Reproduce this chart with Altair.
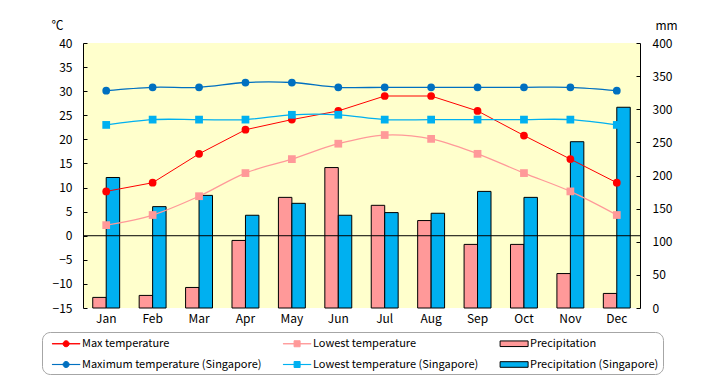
import altair as alt
import pandas as pd

months = ["Jan", "Feb", "Mar", "Apr", "May", "Jun", "Jul", "Aug", "Sep", "Oct", "Nov", "Dec"]

max_temp = [9.2, 11.0, 17.0, 22.0, 24.1, 25.9, 29.0, 29.0, 25.9, 20.8, 15.9, 11.0]
min_temp = [2.2, 4.3, 8.2, 13.0, 15.9, 19.1, 20.9, 20.1, 17.0, 13.0, 9.2, 4.3]
sg_max_temp = [30.1, 30.8, 30.8, 31.8, 31.8, 30.8, 30.8, 30.8, 30.8, 30.8, 30.8, 30.1]
sg_min_temp = [23.0, 24.1, 24.1, 24.1, 25.1, 25.1, 24.1, 24.1, 24.1, 24.1, 24.1, 23.0]

precip = [16, 19, 31, 102, 167, 212, 155, 132, 96, 96, 52, 22]
sg_precip = [197, 153, 170, 140, 158, 140, 144, 143, 176, 167, 251, 303]

series_names = [
    "Max temperature",
    "Lowest temperature",
    "Precipitation",
    "Maximum temperature (Singapore)",
    "Lowest temperature (Singapore)",
    "Precipitation (Singapore)",
]
series_colors = ["#FF0000", "#FF9999", "#FF9999", "#0070C0", "#00B0F0", "#00B0F0"]
legend_strokes = ["#FF0000", "#FF9999", "#000000", "#0070C0", "#00B0F0", "#000000"]

temp_left_ticks = list(range(-15, 41, 5))
precip_right_ticks = list(range(0, 401, 50))

# legend symbol glyphs (unit coordinates)
LINE = "M-0.2,-0.01H3.8V0.01H-0.2Z"
CIRC = " M1.8,-0.43A0.43,0.43 0 1 1 1.8,0.43A0.43,0.43 0 1 1 1.8,-0.43Z"
SQR = " M1.37,-0.43H2.23V0.43H1.37Z"
RECT = "M-0.2,-0.4H3.8V0.4H-0.2Z"
legend_shapes = [LINE + CIRC, LINE + SQR, RECT, LINE + CIRC, LINE + SQR, RECT]

# ---- tables ----
temp_rows = []
for name, vals, kind in [
    (series_names[0], max_temp, "circle"),
    (series_names[1], min_temp, "square"),
    (series_names[3], sg_max_temp, "circle"),
    (series_names[4], sg_min_temp, "square"),
]:
    for m, v in zip(months, vals):
        temp_rows.append({"month": m, "series": name, "value": v, "kind": kind})
temp_df = pd.DataFrame(temp_rows)

precip_rows = []
for name, vals in [(series_names[2], precip), (series_names[5], sg_precip)]:
    for m, v in zip(months, vals):
        precip_rows.append({"month": m, "series": name, "value": v})
precip_df = pd.DataFrame(precip_rows)

zero_df = pd.DataFrame({"v": [0]})

FONT = "Noto Sans CJK JP"

# colour scale for the drawn marks (different domain order than the legend scales
# so that its disabled legend is not merged with the legend below)
mark_order = [0, 1, 3, 4, 2, 5]
color_scale = alt.Scale(
    domain=[series_names[i] for i in mark_order],
    range=[series_colors[i] for i in mark_order],
)

x_enc = alt.X(
    "month:N",
    sort=months,
    scale=alt.Scale(paddingInner=0.42, paddingOuter=0.21),
    axis=alt.Axis(
        title=None, labelAngle=0, domain=False, ticks=False, tickSize=0,
        labelPadding=5, labelFontSize=12, labelColor="black", grid=False,
    ),
)

temp_scale = alt.Scale(domain=[-15, 40], nice=False, zero=False)
temp_axis = alt.Axis(
    orient="left", values=temp_left_ticks, title="℃", titleAngle=0,
    titleX=-26, titleY=-18, titleAlign="center", titleBaseline="middle",
    titleFontWeight="normal", titleFontSize=12, titleColor="black",
    ticks=False, tickSize=0, domain=True, domainColor="black", domainWidth=1,
    grid=True, gridColor="black", gridWidth=1, gridDash=[4, 1000], gridOpacity=1,
    labelPadding=11, labelFontSize=12, labelColor="black", labelFlush=False,
)

precip_axis = alt.Axis(
    orient="right", values=precip_right_ticks, title="mm", titleAngle=0,
    titleX=26, titleY=-18, titleAlign="center", titleBaseline="middle",
    titleFontWeight="normal", titleFontSize=12, titleColor="black",
    ticks=False, tickSize=0, domain=True, domainColor="black", domainWidth=1,
    grid=True, gridColor="black", gridWidth=1, gridDash=[4, 1000], gridOpacity=1,
    labelPadding=12, labelFontSize=12, labelColor="black", labelFlush=False,
)

bars = alt.Chart(precip_df).mark_bar(stroke="black", strokeWidth=1, opacity=1).encode(
    x=x_enc,
    xOffset=alt.XOffset(
        "series:N",
        sort=[series_names[2], series_names[5]],
        scale=alt.Scale(domain=[series_names[2], series_names[5]], paddingInner=0, paddingOuter=0),
    ),
    y=alt.Y("value:Q", scale=alt.Scale(domain=[0, 400], nice=False), axis=precip_axis),
    color=alt.Color("series:N", scale=color_scale, legend=None),
)

y_temp = alt.Y("value:Q", scale=temp_scale, axis=temp_axis)

zero_rule = alt.Chart(zero_df).mark_rule(color="black", strokeWidth=1).encode(
    y=alt.Y("v:Q", scale=temp_scale, axis=temp_axis)
)

line_straight = alt.Chart(temp_df).transform_filter(
    alt.datum.series == series_names[0]
).mark_line(strokeWidth=1).encode(
    x=x_enc, y=y_temp, color=alt.Color("series:N", scale=color_scale, legend=None)
)

line_smooth = alt.Chart(temp_df).transform_filter(
    alt.datum.series != series_names[0]
).mark_line(strokeWidth=1.3, interpolate="catmull-rom").encode(
    x=x_enc, y=y_temp, color=alt.Color("series:N", scale=color_scale, legend=None)
)

pts_circle = alt.Chart(temp_df).transform_filter(
    alt.datum.kind == "circle"
).mark_point(shape="circle", filled=True, size=60, opacity=1).encode(
    x=x_enc, y=y_temp, color=alt.Color("series:N", scale=color_scale, legend=None)
)

pts_square = alt.Chart(temp_df).transform_filter(
    alt.datum.kind == "square"
).mark_point(shape="square", filled=True, size=60, opacity=1).encode(
    x=x_enc, y=y_temp, color=alt.Color("series:N", scale=color_scale, legend=None)
)

# the last column gets some trailing room so the frame reaches the right like the reference
label_expr = "datum.label == '" + series_names[5] + "' ? datum.label + '\u2003\u2003' : datum.label"

the_legend = alt.Legend(
    title=None, orient="none", legendX=-41, legendY=289,
    direction="horizontal", columns=3, gridAlign="each",
    columnPadding=15, rowPadding=8, padding=4,
    symbolSize=196, symbolStrokeWidth=1, symbolOpacity=1, labelOffset=21,
    labelFontSize=11, labelFont=FONT, labelColor="black", labelLimit=0,
    labelExpr=label_expr,
    strokeColor="#A6A6A6", cornerRadius=8, fillColor="white",
)

legend_layer = alt.Chart(temp_df).transform_filter("false").mark_point(filled=True, opacity=1).encode(
    x=x_enc,
    y=y_temp,
    fill=alt.Fill("series:N", scale=alt.Scale(domain=series_names, range=series_colors), legend=the_legend),
    stroke=alt.Stroke("series:N", scale=alt.Scale(domain=series_names, range=legend_strokes), legend=the_legend),
    shape=alt.Shape("series:N", scale=alt.Scale(domain=series_names, range=legend_shapes), legend=the_legend),
)

temp_layer = alt.layer(zero_rule, line_straight, line_smooth, pts_circle, pts_square, legend_layer)

chart = (
    alt.layer(bars, temp_layer)
    .resolve_scale(y="independent")
    .properties(
        width=557,
        height=265,
        autosize=alt.AutoSizeParams(type="none"),
        padding={"left": 75, "top": 35, "right": 72, "bottom": 69},
    )
    .configure_view(fill="#FFFFCC", strokeWidth=0)
    .configure_axis(labelFont=FONT, titleFont=FONT)
    .configure_legend(labelFont=FONT)
)

chart.save("out.html", embed_options={"renderer": "svg", "actions": False})
